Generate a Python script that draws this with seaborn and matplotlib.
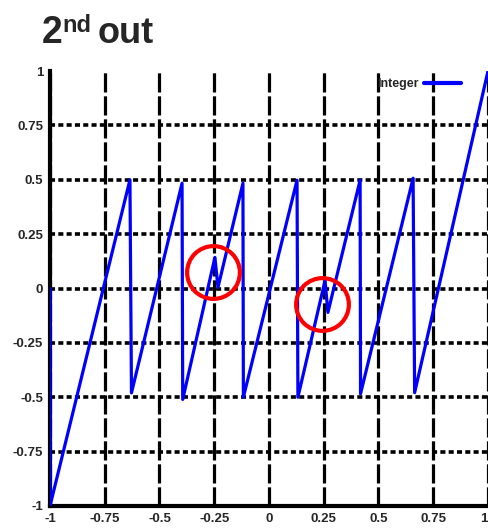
import matplotlib
matplotlib.use("Agg")
import matplotlib.pyplot as plt
import seaborn as sns
import pandas as pd

# ---- data ----
x_vals = [-1.0, -1.0, -0.635, -0.628, -0.397, -0.394, -0.247, -0.233, -0.119, -0.117,
          0.128, 0.132, 0.256, 0.269, 0.416, 0.418, 0.658, 0.665, 1.0]
y_vals = [0.0, -1.0, 0.50, -0.48, 0.484, -0.51, 0.143, 0.005, 0.484, -0.50,
          0.498, -0.50, 0.037, -0.11, 0.498, -0.484, 0.507, -0.479, 1.0]
series_name = "Integer"
x_ticks = [-1, -0.75, -0.5, -0.25, 0, 0.25, 0.5, 0.75, 1]
x_tick_labels = ["-1", "-0.75", "-0.5", "-0.25", "0", "0.25", "0.5", "0.75", "1"]
y_ticks = [-1, -0.75, -0.5, -0.25, 0, 0.25, 0.5, 0.75, 1]
y_tick_labels = ["-1", "-0.75", "-0.5", "-0.25", "0", "0.25", "0.5", "0.75", "1"]
highlight_x = [-0.256, 0.242]
highlight_y = [0.074, -0.069]

sns.set_style("white")
plt.rcParams["font.family"] = ["Liberation Sans", "DejaVu Sans"]

df = pd.DataFrame({"x": x_vals, "y": y_vals, "s": series_name})

fig = plt.figure(figsize=(4.89, 5.29), dpi=100)
ax = fig.add_axes([50 / 489, 1 - 506 / 529, 438 / 489, (506 - 71) / 529])

sns.lineplot(data=df, x="x", y="y", hue="s", palette=["#0000ff"], sort=False,
             estimator=None, linewidth=2.3, ax=ax, zorder=3)

# highlight circles
ax.plot(highlight_x, highlight_y, linestyle="none", marker="o", markersize=38,
        markerfacecolor="none", markeredgecolor="#ff0000", markeredgewidth=3, zorder=4)

ax.set_xlim(-1, 1)
ax.set_ylim(-1, 1)
ax.set_xticks(x_ticks)
ax.set_xticklabels(x_tick_labels)
ax.set_yticks(y_ticks)
ax.set_yticklabels(y_tick_labels)
ax.set_xlabel("")
ax.set_ylabel("")
ax.tick_params(length=0, labelsize=9.5, pad=5)
for lab in ax.get_xticklabels() + ax.get_yticklabels():
    lab.set_fontweight("bold")
ax.get_xticklabels()[-1].set_horizontalalignment("right")

ax.xaxis.grid(True, color="black", linestyle=(0, (6, 1.2)), linewidth=2.3)
ax.yaxis.grid(True, color="black", linestyle=(0, (1.4, 0.9)), linewidth=2.6)
ax.yaxis.get_gridlines()[-1].set_visible(False)
ax.set_axisbelow(True)

for side in ["top", "right"]:
    ax.spines[side].set_visible(False)
for side in ["left", "bottom"]:
    ax.spines[side].set_color("black")
    ax.spines[side].set_linewidth(3)

leg = ax.legend(loc="upper right", bbox_to_anchor=(0.965, 1.01), frameon=False,
                markerfirst=False, handlelength=3.0, handletextpad=0.4,
                prop={"weight": "bold", "size": 9})
for h in leg.get_lines():
    h.set_linewidth(3)

# title "2nd out"
fig.canvas.draw()
r = fig.canvas.get_renderer()
t1 = fig.text(42 / 489, 1 - 43 / 529, "2", fontsize=27, fontweight="bold", ha="left", va="baseline")
bb = t1.get_window_extent(r)
t2 = fig.text(bb.x1 / 489, 1 - 32 / 529, "nd", fontsize=17, fontweight="bold", ha="left", va="baseline")
bb2 = t2.get_window_extent(r)
fig.text(bb2.x1 / 489 + 6 / 489, 1 - 43 / 529, "out", fontsize=26, fontweight="bold", ha="left", va="baseline")

fig.savefig("out.png", dpi=100)
